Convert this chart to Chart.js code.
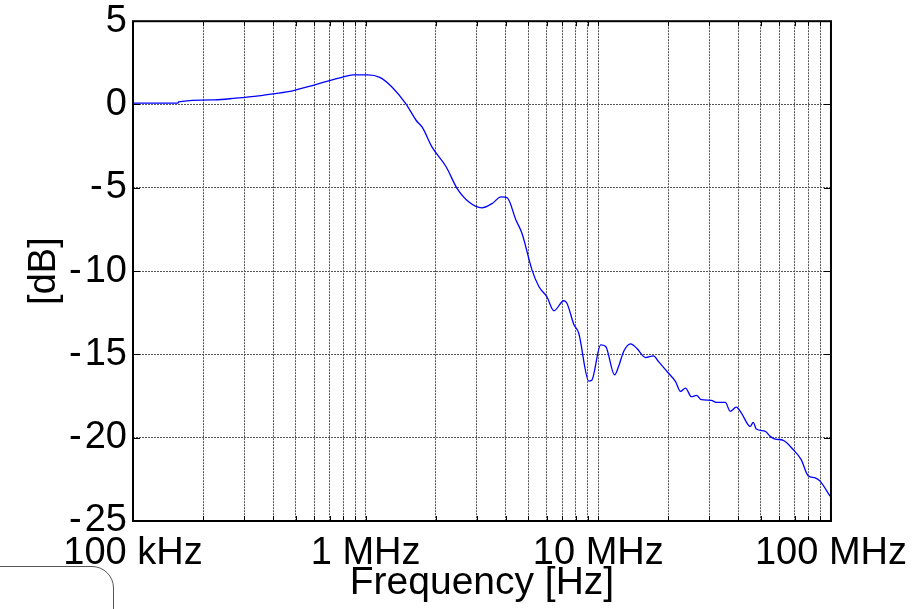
<!DOCTYPE html>
<html>
<head>
<meta charset="utf-8">
<script src="https://cdn.jsdelivr.net/npm/chart.js@4"></script>
<style>
  html, body { margin: 0; padding: 0; background: #fff; }
  #wrap { position: relative; width: 917px; height: 609px; overflow: hidden; }
  #corner { position: absolute; left: -6px; top: 566px; width: 118px; height: 60px;
            border: 1.5px solid #555; border-top-right-radius: 22px; }
</style>
</head>
<body>
<div id="wrap">
  <canvas id="chart1" width="917" height="609"></canvas>
  <div id="corner"></div>
</div>
<script>
// frequency in MHz, magnitude in dB
const freqMHz = [0.1, 0.156, 0.157, 0.225, 0.276, 0.347, 0.40, 0.485, 0.59, 0.70, 0.79, 0.88,
    1.02, 1.15, 1.30, 1.49, 1.65, 1.75, 1.93, 2.22, 2.47, 2.78, 3.16, 3.49, 3.82, 4.05,
    4.43, 4.70, 5.19, 5.56, 6.01, 6.44, 7.11, 7.33, 7.85, 8.24, 9.10, 9.37, 10.24, 10.76,
    11.75, 12.22, 12.85, 13.77, 14.62, 15.97, 17.27, 18.15, 20.04, 21.48, 22.54, 23.71,
    25.12, 26.42, 27.73, 30.62, 32.14, 35.16, 36.9, 39.17, 41.21, 44.98, 46.34, 47.75,
    52.24, 54.83, 57.54, 62.37, 68.87, 74.47, 79.8, 85.5, 89.75, 99.1];
const gainDB = [0.08, 0.08, 0.16, 0.28, 0.38, 0.52, 0.64, 0.82, 1.14, 1.44, 1.63, 1.78,
    1.78, 1.63, 1.04, 0.04, -0.96, -1.36, -2.56, -3.75, -5.03, -5.85, -6.2, -5.95, -5.55, -5.59,
    -6.95, -7.74, -9.94, -10.94, -11.54, -12.38, -11.78, -11.93, -13.2, -13.73, -16.6, -16.55, -14.43, -14.53,
    -16.23, -15.73, -14.83, -14.37, -14.63, -15.19, -15.09, -15.43, -16.13, -16.63, -17.22, -17.02,
    -17.54, -17.46, -17.72, -17.76, -17.88, -17.88, -18.42, -18.16, -18.52, -19.32, -19.08, -19.48,
    -19.62, -19.92, -20.08, -20.16, -20.72, -21.32, -22.28, -22.41, -22.61, -23.51];

const xTickValues = [1e5, 1e6, 1e7, 1e8];
const xTickLabels = ['100 kHz', '1 MHz', '10 MHz', '100 MHz'];
const yTicks = [5, 0, -5, -10, -15, -20, -25];

const points = freqMHz.map((f, i) => ({ x: f * 1e6, y: gainDB[i] }));

const font = 'Liberation Sans, Arial, sans-serif';

// box round the plot plus the small inward ticks
const boxPlugin = {
    id: 'box',
    afterDraw(chart) {
        const { ctx, chartArea: a, scales: { x, y } } = chart;
        ctx.save();
        ctx.strokeStyle = '#000';
        ctx.lineWidth = 1;
        x.ticks.forEach(t => {
            const px = Math.round(x.getPixelForValue(t.value)) + 0.5;
            ctx.beginPath();
            ctx.moveTo(px, a.bottom); ctx.lineTo(px, a.bottom - 5);
            ctx.moveTo(px, a.top); ctx.lineTo(px, a.top + 5);
            ctx.stroke();
        });
        y.ticks.forEach(t => {
            const py = Math.round(y.getPixelForValue(t.value)) + 0.5;
            ctx.beginPath();
            ctx.moveTo(a.left, py); ctx.lineTo(a.left + 7, py);
            ctx.moveTo(a.right, py); ctx.lineTo(a.right - 7, py);
            ctx.stroke();
        });
        ctx.lineWidth = 2;
        ctx.strokeRect(a.left, a.top, a.right - a.left, a.bottom - a.top);
        ctx.restore();
    }
};

new Chart(document.getElementById('chart1').getContext('2d'), {
    type: 'line',
    data: {
        datasets: [{
            data: points,
            borderColor: '#0000ff',
            borderWidth: 1.3,
            pointRadius: 0,
            fill: false,
            cubicInterpolationMode: 'monotone'
        }]
    },
    options: {
        responsive: false,
        animation: false,
        layout: { padding: { top: 21, right: 84, left: 0, bottom: 0 } },
        plugins: { legend: { display: false }, tooltip: { enabled: false } },
        scales: {
            x: {
                type: 'logarithmic',
                min: 1e5,
                max: 1e8,
                afterBuildTicks: s => {
                    const ticks = [];
                    for (let e = 5; e < 8; e++) {
                        for (let m = 1; m <= 9; m++) ticks.push({ value: m * Math.pow(10, e) });
                    }
                    ticks.push({ value: 1e8 });
                    s.ticks = ticks;
                },
                afterFit: s => { s.height = 88; },
                grid: { color: '#555', lineWidth: 1, drawTicks: false },
                border: { display: false, dash: [2, 1] },
                ticks: {
                    autoSkip: false,
                    maxRotation: 0,
                    padding: 10,
                    color: '#000',
                    font: { family: font, size: 38 },
                    callback: v => {
                        const i = xTickValues.indexOf(v);
                        return i >= 0 ? xTickLabels[i] : '';
                    }
                },
                title: {
                    display: true,
                    text: 'Frequency [Hz]',
                    color: '#000',
                    font: { family: font, size: 39 },
                    padding: { top: 0, bottom: 2 }
                }
            },
            y: {
                min: -25,
                max: 5,
                afterBuildTicks: s => { s.ticks = yTicks.map(v => ({ value: v })); },
                afterFit: s => { s.width = 133; },
                grid: { color: '#555', lineWidth: 1, drawTicks: false },
                border: { display: false, dash: [2, 1] },
                ticks: {
                    padding: 6,
                    color: '#000',
                    font: { family: font, size: 38, lineHeight: 0.8 },
                    callback: v => String(v).replace('-', '-\u200a')
                },
                title: {
                    display: true,
                    text: '[dB]',
                    color: '#000',
                    font: { family: font, size: 38 },
                    padding: { top: 22, bottom: 0 }
                }
            }
        }
    },
    plugins: [boxPlugin]
});
</script>
</body>
</html>
